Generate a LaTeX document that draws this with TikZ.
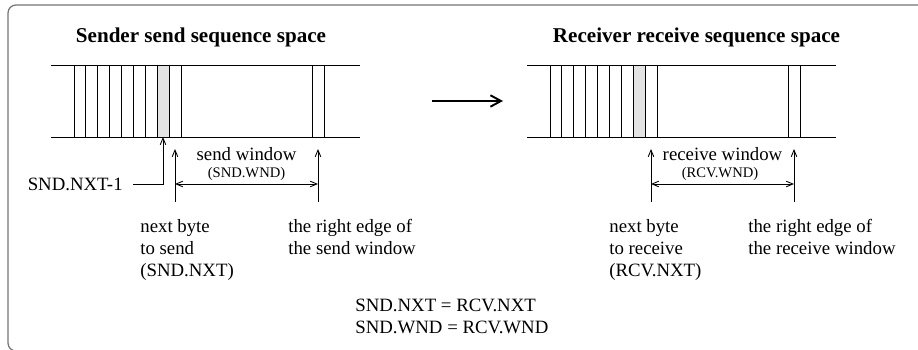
\documentclass[tikz,border=0pt]{standalone}
\usepackage{fontspec}
\setmainfont{Liberation Serif}
\usetikzlibrary{arrows.meta}

\begin{document}
\begin{tikzpicture}[
    x=0.02cm, y=-0.02cm,
    >={Straight Barb[length=3.8pt,width=3.2pt]},
    heading/.style={font=\fontsize{12}{14}\selectfont\bfseries, inner sep=0},
    lbl/.style={font=\fontsize{10.7}{12.5}\selectfont, inner sep=0, align=left},
    small/.style={font=\fontsize{8.3}{10}\selectfont, inner sep=0},
    frame/.style={draw=black!55, line width=0.7pt, rounded corners=0.16cm}
  ]
  \useasboundingbox (0,0) rectangle (918,350);
  \clip (0,0) rectangle (918,350);
  \draw[frame] (8,5) rectangle (940,351);

  % both sequence spaces look the same, the receiver one is shifted
  \foreach \dx in {0,476} {
    \begin{scope}[shift={(\dx,0)}, line width=0.5pt]
      \fill[black!11] (157.3,65) rectangle (169.2,137);
      \draw (51,65) -- (360,65) (51,137) -- (360,137);
      \foreach \i in {0,...,9}
        \draw (74+11.9*\i,65) -- ++(0,72);
      \draw (312,65) -- ++(0,72) (324,65) -- ++(0,72);
    \end{scope}
  }

  % sender side
  \node[heading, anchor=base] (sndtitle) at (201,43) {Sender send sequence space};
  \coordinate (s-nxt) at (163,137);
  \coordinate (s-wl) at (175,202);
  \coordinate (s-wr) at (318,202);
  \coordinate (s-wlt) at (175,149);
  \coordinate (s-wrt) at (318,149);
  \coordinate (s-wa) at (175,184);
  \coordinate (s-wb) at (318,184);
  \node[lbl, anchor=east] (sndnxt1) at (123,184) {SND.NXT-1};
  \node[lbl, anchor=base] (swin) at (246.5,161) {send window};
  \node[small] (swnd) at (246.5,174) {(SND.WND)};
  \node[lbl, anchor=north west] (snext) at (140,219) {next byte\\to send\\(SND.NXT)};
  \node[lbl, anchor=north west] (sedge) at (288,219) {the right edge of\\the send window};

  \draw[->, line width=0.5pt] ([xshift=0.2cm]sndnxt1.east) -| (s-nxt);
  \draw[->, line width=0.5pt] (s-wl) -- (s-wlt);
  \draw[->, line width=0.5pt] (s-wr) -- (s-wrt);
  \draw[<->, line width=0.5pt] (s-wa) -- (s-wb);

  % transfer arrow
  \coordinate (flowa) at (432,101);
  \coordinate (flowb) at (503,101);
  \draw[line width=1.1pt, -{Straight Barb[length=6pt,width=6.5pt]}] (flowa) -- (flowb);

  % receiver side
  \node[heading, anchor=base] (rcvtitle) at (696.5,43) {Receiver receive sequence space};
  \coordinate (r-wl) at (651,202);
  \coordinate (r-wr) at (794,202);
  \coordinate (r-wlt) at (651,149);
  \coordinate (r-wrt) at (794,149);
  \coordinate (r-wa) at (651,184);
  \coordinate (r-wb) at (794,184);
  \node[lbl, anchor=base] (rwin) at (722.5,161) {receive window};
  \node[small] (rwnd) at (720,174) {(RCV.WND)};
  \node[lbl, anchor=north west] (rnext) at (609,219) {next byte\\to receive\\(RCV.NXT)};
  \node[lbl, anchor=north west] (redge) at (748,219) {the right edge of\\the receive window};

  \draw[->, line width=0.5pt] (r-wl) -- (r-wlt);
  \draw[->, line width=0.5pt] (r-wr) -- (r-wrt);
  \draw[<->, line width=0.5pt] (r-wa) -- (r-wb);

  % the two agree
  \node[lbl, anchor=north west] (eqs) at (355,299) {SND.NXT = RCV.NXT\\SND.WND = RCV.WND};
\end{tikzpicture}
\end{document}
